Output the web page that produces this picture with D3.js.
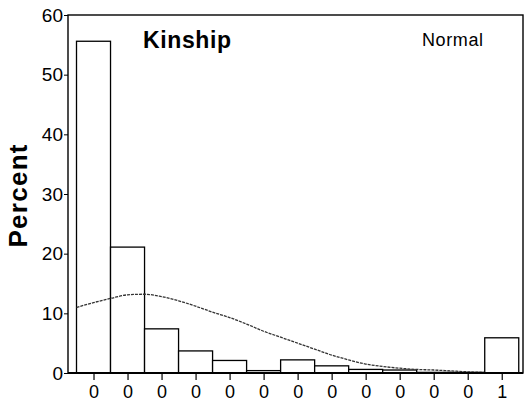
<!DOCTYPE html>
<html>
<head>
<meta charset="utf-8">
<script src="https://cdn.jsdelivr.net/npm/d3@7/dist/d3.min.js"></script>
<style>
  html, body { margin: 0; padding: 0; background: #fff; }
  svg { display: block; font-family: "Liberation Sans", Arial, sans-serif; }
</style>
</head>
<body>
<svg id="chart" width="524" height="402"></svg>
<script>
// Histogram bins (index along the axis), their tick labels and percentages
const binIndex = [0, 1, 2, 3, 4, 5, 6, 7, 8, 9, 10, 11, 12];
const binLabels = ["0", "0", "0", "0", "0", "0", "0", "0", "0", "0", "0", "0", "1"];
const binPercent = [55.6, 21.1, 7.4, 3.7, 2.1, 0.4, 2.2, 1.2, 0.6, 0.5, 0.1, 0.1, 5.9];

// Fitted normal curve, sampled along the bin index
const normalX = [-0.5, 0, 0.5, 1.0, 1.5, 2.0, 2.5, 3.0, 3.5, 4.0, 4.5, 5.0, 5.5, 6.0,
                 6.5, 7.0, 7.5, 8.0, 8.5, 9.0, 9.5, 10.0, 10.5, 11.0, 11.5];
const normalY = [11.0, 11.8, 12.5, 13.1, 13.2, 12.8, 12.1, 11.2, 10.2, 9.3, 8.2, 7.0, 6.0, 5.0,
                 4.0, 3.0, 2.2, 1.5, 1.1, 0.8, 0.6, 0.5, 0.35, 0.2, 0.1];

const yTicks = [0, 10, 20, 30, 40, 50, 60];

const svg = d3.select("#chart");
const plotLeft = 68, plotRight = 523, plotTop = 15, plotBottom = 373;

const x = d3.scaleLinear().domain([-0.75, 12.625]).range([plotLeft, plotRight]);
const y = d3.scaleLinear().domain([0, 60]).range([plotBottom, plotTop]);
const binW = x(1) - x(0);

// bars
svg.append("g")
  .selectAll("rect")
  .data(binIndex)
  .join("rect")
  .attr("x", i => x(i - 0.5))
  .attr("y", i => y(binPercent[i]))
  .attr("width", binW)
  .attr("height", i => y(0) - y(binPercent[i]))
  .attr("fill", "#fff")
  .attr("stroke", "#000")
  .attr("stroke-width", 1.3);

// normal curve
const line = d3.line()
  .x((d, k) => x(normalX[k]))
  .y(d => y(d))
  .curve(d3.curveMonotoneX);
svg.append("path")
  .attr("d", line(normalY))
  .attr("fill", "none")
  .attr("stroke", "#333")
  .attr("stroke-width", 1.3)
  .attr("stroke-dasharray", "3,1");

// frame
svg.append("rect")
  .attr("x", plotLeft).attr("y", plotTop)
  .attr("width", plotRight - plotLeft).attr("height", plotBottom - plotTop)
  .attr("fill", "none").attr("stroke", "#000").attr("stroke-width", 1.4);
svg.append("line")
  .attr("x1", plotLeft).attr("x2", plotRight).attr("y1", plotBottom).attr("y2", plotBottom)
  .attr("stroke", "#000").attr("stroke-width", 2);

// y axis
const yAxis = svg.append("g")
  .attr("transform", `translate(${plotLeft},0)`)
  .call(d3.axisLeft(y).tickValues(yTicks).tickSize(4).tickPadding(1));
yAxis.select(".domain").remove();
yAxis.selectAll("text").attr("font-size", 19).attr("fill", "#000")
  .attr("font-family", "Liberation Sans, Arial, sans-serif");
yAxis.selectAll("line").attr("stroke", "#000");

// x axis
const xAxis = svg.append("g")
  .attr("transform", `translate(0,${plotBottom})`)
  .call(d3.axisBottom(x).tickValues(binIndex).tickFormat(i => binLabels[i]).tickSize(7).tickPadding(5.7));
xAxis.select(".domain").remove();
xAxis.selectAll("text").attr("font-size", 18).attr("fill", "#000")
  .attr("font-family", "Liberation Sans, Arial, sans-serif");
xAxis.selectAll("line").attr("stroke", "#000").attr("stroke-width", 1.2);

// titles
svg.append("text")
  .attr("x", 143).attr("y", 48)
  .attr("font-size", 23).attr("font-weight", "bold")
  .attr("textLength", 88)
  .text("Kinship");
svg.append("text")
  .attr("x", 422).attr("y", 46)
  .attr("font-size", 18)
  .attr("textLength", 61)
  .text("Normal");
svg.append("text")
  .attr("transform", "translate(27,196) rotate(-90)")
  .attr("text-anchor", "middle")
  .attr("font-size", 26).attr("font-weight", "bold")
  .attr("textLength", 103)
  .text("Percent");
</script>
</body>
</html>
